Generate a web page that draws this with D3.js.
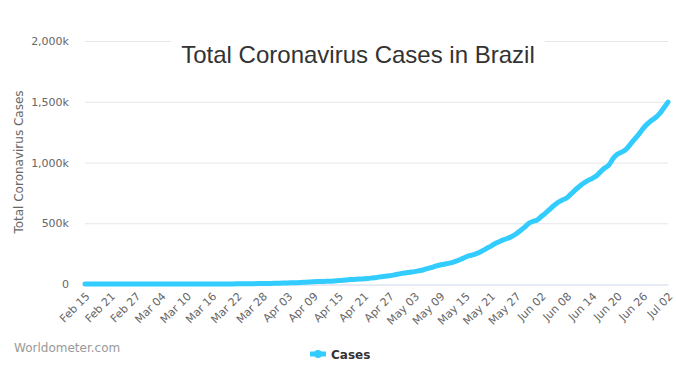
<!DOCTYPE html>
<html>
<head>
<meta charset="utf-8">
<script src="https://cdn.jsdelivr.net/npm/d3@7"></script>
<style>
  body { margin: 0; background: #fff; }
  svg { display: block; }
</style>
</head>
<body>
<svg id="chart" width="676" height="372"></svg>
<script>
// total cases, one per day from Feb 15 to Jul 02
const startDate = '2020-02-15';
const cases = [
  0, 0, 0, 0, 0, 0, 0, 0, 0, 0, 0, 1, 1, 1, 2,
  2, 2, 2, 4, 4, 13, 13, 20, 25, 31, 38, 52, 151, 151, 162,
  200, 321, 372, 621, 793, 1021, 1546, 1924, 2247, 2554, 2985, 3417, 3904, 4256, 4579, 5717,
  6836, 8044, 9056, 10360, 11130, 12161, 14034, 16170, 18092, 19638, 20727, 22192, 23430, 25262, 28320,
  30425, 33682, 36658, 38654, 40743, 43079, 45757, 50036, 54043, 59324, 63100, 67446, 73235, 79685, 87187,
  92202, 97100, 101826, 108620, 115455, 126611, 135773, 146894, 156061, 162699, 169594, 178214, 190137, 203165, 220291,
  233511, 241080, 255368, 271885, 291579, 310087, 330890, 347398, 363211, 374898, 391222, 411821, 438238, 465166, 498440, 514849,
  526447, 555383, 584016, 614941, 645771, 672846, 691758, 707412, 739503, 772416, 802828, 828810, 850514, 867624, 888271,
  923189, 955377, 978142, 1032913, 1067579, 1085038, 1106470, 1145906, 1188631, 1228114, 1274974, 1313667, 1344143, 1368195, 1402041,
  1448753, 1496858
];
const yTicks = [0, 500000, 1000000, 1500000, 2000000];
const labelEvery = 6;

const parse = d3.timeParse('%Y-%m-%d');
const fmtDay = d3.timeFormat('%b %d');
const dates = cases.map((c, i) => d3.timeDay.offset(parse(startDate), i));
const data = cases.map((c, i) => ({ date: dates[i], value: c }));

const margin = { top: 41, right: 8, bottom: 88, left: 85 };
const width = 676 - margin.left - margin.right;
const height = 372 - margin.top - margin.bottom;

const svg = d3.select('#chart');
const g = svg.append('g')
  .attr('transform', `translate(${margin.left}, ${margin.top})`);

const x = d3.scaleTime()
  .domain([dates[0], dates[dates.length - 1]])
  .range([0, width]);

const y = d3.scaleLinear()
  .domain([0, 2000000])
  .range([height, 0]);

// grid
g.append('g')
  .selectAll('line')
  .data(yTicks.slice(1))
  .enter()
  .append('line')
  .attr('x1', 0)
  .attr('x2', width)
  .attr('y1', d => y(d) + 0.5)
  .attr('y2', d => y(d) + 0.5)
  .attr('stroke', '#e6e6e6');

// y labels
const yAxis = d3.axisLeft(y)
  .tickValues(yTicks)
  .tickSize(0)
  .tickPadding(16)
  .tickFormat(d => d === 0 ? '0' : d3.format(',')(d / 1000) + 'k');

g.append('g')
  .attr('class', 'y axis')
  .call(yAxis)
  .call(s => s.select('.domain').remove())
  .selectAll('text')
  .attr('fill', '#666')
  .attr('font-family', 'DejaVu Sans')
  .attr('font-size', 11);

// x axis
const xTicks = dates.filter((d, i) => i % labelEvery === 0);
const xAxis = d3.axisBottom(x)
  .tickValues(xTicks)
  .tickSize(0)
  .tickFormat(fmtDay);

const xg = g.append('g')
  .attr('class', 'x axis')
  .attr('transform', `translate(0, ${height})`)
  .call(xAxis);

xg.select('.domain')
  .attr('stroke', '#ccd6eb')
  .attr('transform', 'translate(0, 0.5)');

xg.selectAll('text')
  .attr('fill', '#666')
  .attr('font-family', 'DejaVu Sans')
  .attr('font-size', 11)
  .attr('text-anchor', 'end')
  .attr('dy', 0)
  .attr('y', 0)
  .attr('transform', 'translate(5, 13) rotate(-45)');

// line
const line = d3.line()
  .x(d => x(d.date))
  .y(d => y(d.value))
  .curve(d3.curveMonotoneX);

g.append('path')
  .datum(data)
  .attr('fill', 'none')
  .attr('stroke', '#33ccff')
  .attr('stroke-width', 5)
  .attr('stroke-linejoin', 'round')
  .attr('stroke-linecap', 'round')
  .attr('d', line);

// title with white box over the top grid line
const titleBox = svg.append('rect')
  .attr('fill', '#fff');

const title = svg.append('text')
  .attr('x', 358)
  .attr('y', 63)
  .attr('text-anchor', 'middle')
  .attr('font-family', 'Liberation Sans')
  .attr('font-size', 24)
  .attr('fill', '#333')
  .text('Total Coronavirus Cases in Brazil');

const tb = title.node().getBBox();
titleBox
  .attr('x', tb.x - 10)
  .attr('y', 36)
  .attr('width', tb.width + 20)
  .attr('height', 12);

// y axis title
svg.append('text')
  .attr('transform', 'translate(23, 162) rotate(-90)')
  .attr('text-anchor', 'middle')
  .attr('font-family', 'DejaVu Sans')
  .attr('font-size', 12)
  .attr('fill', '#666')
  .text('Total Coronavirus Cases');

// credit
svg.append('text')
  .attr('x', 14)
  .attr('y', 352)
  .attr('font-family', 'DejaVu Sans')
  .attr('font-size', 12)
  .attr('fill', '#999')
  .text('Worldometer.com');

// legend
const legend = svg.append('g')
  .attr('transform', 'translate(310, 354)');

legend.append('line')
  .attr('x1', 0)
  .attr('x2', 16)
  .attr('stroke', '#33ccff')
  .attr('stroke-width', 5);

legend.append('circle')
  .attr('cx', 8)
  .attr('r', 4)
  .attr('fill', '#33ccff');

legend.append('text')
  .attr('x', 21)
  .attr('y', 4.5)
  .attr('font-family', 'DejaVu Sans')
  .attr('font-size', 12)
  .attr('font-weight', 'bold')
  .attr('fill', '#333')
  .text('Cases');
</script>
</body>
</html>
